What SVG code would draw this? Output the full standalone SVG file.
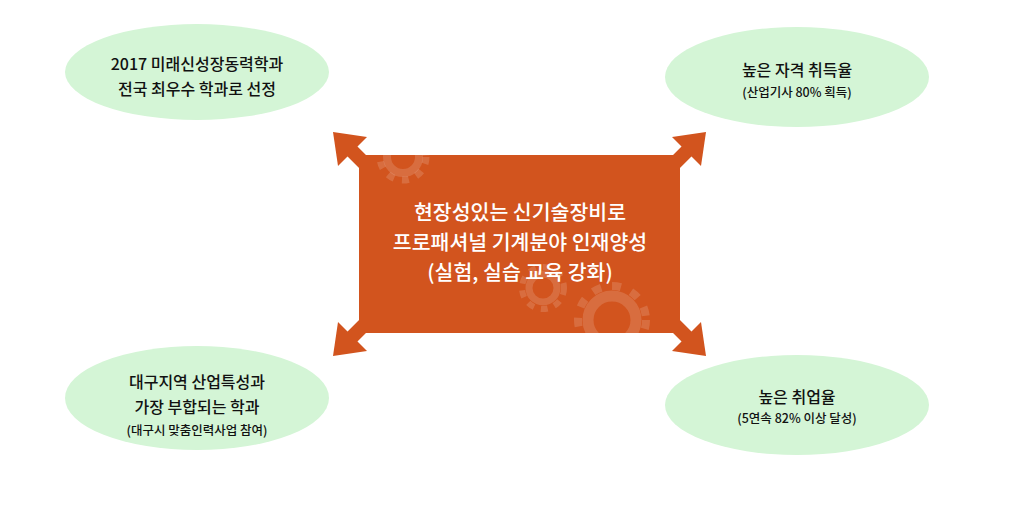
<svg xmlns="http://www.w3.org/2000/svg" width="1029" height="521" viewBox="0 0 1029 521">
<style>
.e{fill:#d4f5d6}
.t{font-family:"Noto Sans CJK KR","Noto Sans",sans-serif;fill:#111;text-anchor:middle;font-weight:500}
.b{font-size:16px}.s{font-size:12.5px}
.w{font-family:"Noto Sans CJK KR","Noto Sans",sans-serif;fill:#fff;text-anchor:middle;font-size:20.5px;font-weight:500}
.g{fill:none;stroke:#fff;stroke-opacity:.15}
</style>
<defs>
<clipPath id="cr"><rect x="359" y="155" width="321" height="178"/></clipPath>
<g id="ar"><line x1="0" y1="0" x2="-30" y2="-30" stroke="#d2541e" stroke-width="14"/><polygon points="-46,-46 -12,-41 -41,-12" fill="#d2541e"/></g>
</defs>
<g id="n1"><ellipse class="e" cx="197" cy="72" rx="132" ry="48"/><text class="t b" x="197" y="70">2017 미래신성장동력학과</text><text class="t b" x="197" y="95">전국 최우수 학과로 선정</text></g>
<g id="n2"><ellipse class="e" cx="797" cy="77" rx="132" ry="50"/><text class="t b" x="797" y="76">높은 자격 취득율</text><text class="t s" x="797" y="97">(산업기사 80% 획득)</text></g>
<g id="n3"><ellipse class="e" cx="197" cy="398" rx="132" ry="52"/><text class="t b" x="197" y="388">대구지역 산업특성과</text><text class="t b" x="197" y="413">가장 부합되는 학과</text><text class="t s" x="197" y="435">(대구시 맞춤인력사업 참여)</text></g>
<g id="n4"><ellipse class="e" cx="797" cy="405" rx="132" ry="50"/><text class="t b" x="797" y="403">높은 취업율</text><text class="t s" x="797" y="423">(5연속 82% 이상 달성)</text></g>
<g id="connectors">
<use href="#ar" transform="translate(379,178)"/>
<use href="#ar" transform="translate(660,178) scale(-1,1)"/>
<use href="#ar" transform="translate(379,310) scale(1,-1)"/>
<use href="#ar" transform="translate(660,310) scale(-1,-1)"/>
</g>
<g id="center">
<rect x="359" y="155" width="321" height="178" fill="#d2541e"/>
<g clip-path="url(#cr)">
<circle class="g" cx="403" cy="157" r="16" stroke-width="8"/><circle class="g" cx="403" cy="157" r="23" stroke-width="7" stroke-dasharray="7 8"/>
<circle class="g" cx="543" cy="288" r="14" stroke-width="7"/><circle class="g" cx="543" cy="288" r="21" stroke-width="6" stroke-dasharray="7 7"/>
<circle class="g" cx="612" cy="320" r="24" stroke-width="11"/><circle class="g" cx="612" cy="320" r="34" stroke-width="8" stroke-dasharray="9 11"/>
</g>
<text class="w" x="520" y="220">현장성있는 신기술장비로</text>
<text class="w" x="520" y="250">프로패셔널 기계분야 인재양성</text>
<text class="w" x="520" y="280">(실험, 실습 교육 강화)</text>
</g>
</svg>
